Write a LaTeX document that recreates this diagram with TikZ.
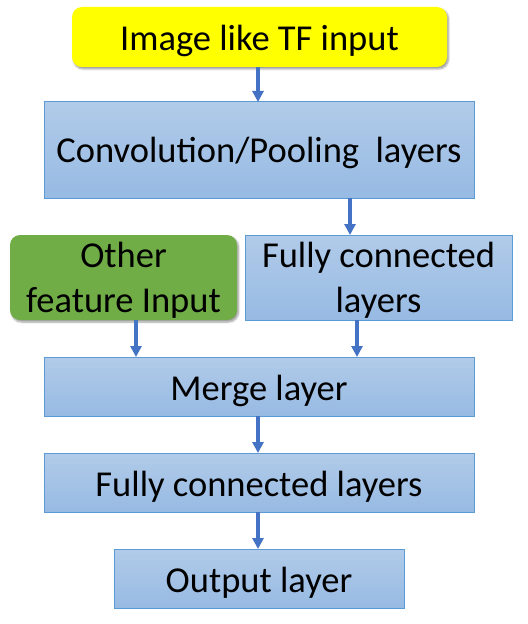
\documentclass[tikz,border=0pt]{standalone}
\usepackage{fontspec}
\setmainfont{Carlito}
\usetikzlibrary{arrows.meta,shadows.blur}
\definecolor{boxtop}{HTML}{B1CBE9}
\definecolor{boxbot}{HTML}{97BAE3}
\definecolor{boxline}{HTML}{5B9BD5}
\definecolor{arrowc}{HTML}{4472C4}
\definecolor{greenc}{HTML}{70AD47}
\definecolor{yellowc}{HTML}{FFFF00}
\tikzset{
  bluebox/.style={draw=boxline, line width=1bp, top color=boxtop, bottom color=boxbot, inner sep=0pt},
  roundbox/.style={rounded corners=10bp, inner sep=0pt, blur shadow={shadow xshift=1.5bp, shadow yshift=-2bp, shadow blur steps=6, shadow opacity=40}},
  lbl/.style={font=\fontsize{36.5bp}{44bp}\selectfont, align=center, text=black},
  flow/.style={draw=arrowc, line width=3.6bp, -{Triangle[length=11bp,width=11bp]}, shorten >=0bp}
}
\begin{document}
\begin{tikzpicture}[x=1bp,y=-1bp]
\useasboundingbox (0,0) rectangle (528,624);
% boxes
\path[roundbox, fill=yellowc] (72,7) rectangle (447,67);
\node[lbl] (img) at (259.5,41) {Image like TF input};
\coordinate (imgB) at (258,67);

\path[bluebox] (44,102) rectangle (474,198);
\node[lbl] (conv) at (259,153) {Convolution/Pooling\ \ layers};
\coordinate (convT) at (258,102);
\coordinate (convB) at (350,198);

\path[roundbox, fill=greenc] (10,235) rectangle (237,320);
\node[lbl] (other) at (123.5,280) {Other\\[1bp]feature Input};
\coordinate (otherB) at (136,320);

\path[bluebox] (245,235) rectangle (512,320);
\node[lbl] (fc1) at (378.5,280) {Fully connected\\[1bp]layers};
\coordinate (fc1T) at (350,235);
\coordinate (fc1B) at (357,320);

\path[bluebox] (44,357) rectangle (474,416);
\node[lbl] (merge) at (259,390.5) {Merge layer};
\coordinate (mergeTL) at (136,357);
\coordinate (mergeTR) at (357,357);
\coordinate (mergeB) at (258,416);

\path[bluebox] (44,453) rectangle (474,512);
\node[lbl] (fc2) at (259,486.5) {Fully connected layers};
\coordinate (fc2T) at (258,453);
\coordinate (fc2B) at (258,512);

\path[bluebox] (114,549) rectangle (404,608);
\node[lbl] (out) at (259,582.5) {Output layer};
\coordinate (outT) at (258,549);

% arrows
\draw[flow] (imgB) -- (convT);
\draw[flow] (convB) -- (fc1T);
\draw[flow] (otherB) -- (mergeTL);
\draw[flow] (fc1B) -- (mergeTR);
\draw[flow] (mergeB) -- (fc2T);
\draw[flow] (fc2B) -- (outT);
\end{tikzpicture}
\end{document}
